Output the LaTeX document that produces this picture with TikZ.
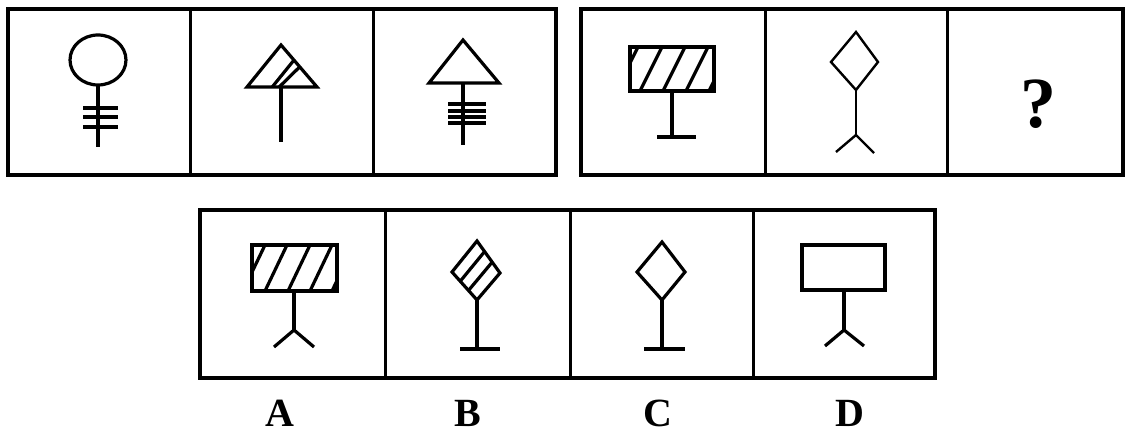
\documentclass[tikz,border=0pt]{standalone}
\usepackage{fontspec}
\setmainfont{Liberation Serif}
\usetikzlibrary{calc}
\tikzset{
  frame/.style={line width=2.1pt},
  divider/.style={line width=1.5pt},
  fig/.style={line width=1.6pt},
  thinfig/.style={line width=1.2pt},
  letter/.style={font=\fontsize{20}{24}\selectfont\bfseries, inner sep=0pt}
}
\begin{document}
\begin{tikzpicture}[x=0.5pt,y=-0.5pt]
\useasboundingbox (0,0) rectangle (1126,433);
% panels
\draw[frame] (8,9) rectangle (556,175);
\draw[divider] (190,9) -- (190,175);
\draw[divider] (373,9) -- (373,175);
\draw[frame] (581,9) rectangle (1123,175);
\draw[divider] (765,9) -- (765,175);
\draw[divider] (947,9) -- (947,175);
\draw[frame] (200,210) rectangle (935,378);
\draw[divider] (385,210) -- (385,378);
\draw[divider] (570,210) -- (570,378);
\draw[divider] (753,210) -- (753,378);

% circle with three bars
\draw[fig] (98,60) ellipse [x radius=28, y radius=25];
\draw[fig] (98,85) -- (98,147);
\foreach \y in {108,117,127}
  \draw[fig] (83,\y) -- (118,\y);

% triangle with one stripe
\coordinate (ta) at (281,45);
\coordinate (tb) at (247,87);
\coordinate (tc) at (317,87);
\draw[fig] (ta) -- (tb) -- (tc) -- cycle;
\draw[fig] ($(tb)!0.36!(tc)$) -- ($(ta)!0.36!(tc)$);
\draw[fig] ($(tb)!0.46!(tc)$) -- ($(ta)!0.52!(tc)$);
\draw[fig] (281,87) -- (281,142);

% triangle with four bars
\draw[fig] (463,40) -- (429,83) -- (499,83) -- cycle;
\draw[fig] (463,83) -- (463,145);
\foreach \y in {104,111,117,123}
  \draw[fig] (448,\y) -- (486,\y);

% hatched rectangle on a T
\begin{scope}
  \clip (630,47) rectangle (714,91);
  \foreach \x in {616,640,663,686,709}
    \draw[fig] (\x,91) -- ++(22,-44);
\end{scope}
\draw[fig] (630,47) rectangle (714,91);
\draw[fig] (672,91) -- (672,137);
\draw[fig] (657,137) -- (696,137);

% diamond on a fork
\draw[thinfig] (856,32) -- (878,62) -- (856,90) -- (831,62) -- cycle;
\draw[thinfig] (856,90) -- (856,135);
\draw[thinfig] (836,152) -- (856,135) -- (874,153);

\node[font=\fontsize{36}{40}\selectfont\bfseries] (q) at (1038,104) {?};

% option A
\begin{scope}
  \clip (252,245) rectangle (337,291);
  \foreach \x in {243,265,288,310,332}
    \draw[fig] (\x,291) -- ++(22,-46);
\end{scope}
\draw[fig] (252,245) rectangle (337,291);
\draw[fig] (294,291) -- (294,330);
\draw[fig] (274,347) -- (294,330) -- (314,347);

% option B
\coordinate (bt) at (477,241);
\coordinate (br) at (500,273);
\coordinate (bb) at (477,300);
\coordinate (bl) at (452,272);
\draw[fig] (bt) -- (br) -- (bb) -- (bl) -- cycle;
\foreach \t in {0.33,0.66}
  \draw[fig] ($(bl)!\t!(bb)$) -- ($(bt)!\t!(br)$);
\draw[fig] (bb) -- (477,349);
\draw[fig] (460,349) -- (500,349);

% option C
\draw[fig] (662,242) -- (685,272) -- (662,300) -- (637,272) -- cycle;
\draw[fig] (662,300) -- (662,349);
\draw[fig] (644,349) -- (685,349);

% option D
\draw[fig] (802,245) rectangle (885,290);
\draw[fig] (844,290) -- (844,330);
\draw[fig] (825,346) -- (844,330) -- (864,346);

% labels
\node[letter] (la) at (280,413) {A};
\node[letter] (lb) at (468,413) {B};
\node[letter] (lc) at (658,413) {C};
\node[letter] (ld) at (850,413) {D};
\end{tikzpicture}
\end{document}
